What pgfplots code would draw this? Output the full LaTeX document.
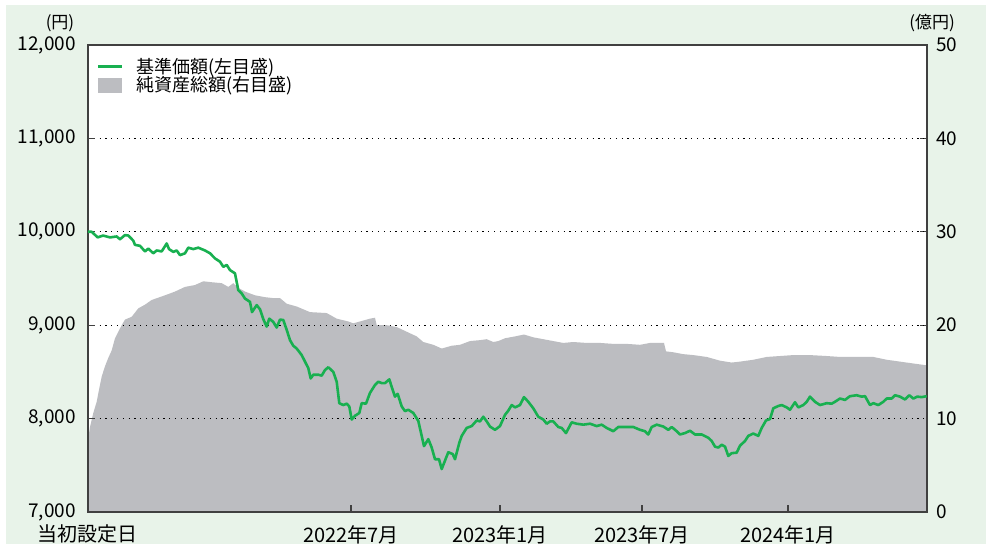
\documentclass[border=0pt]{standalone}
\usepackage{fontspec}
\setmainfont{Noto Sans CJK JP}
\usepackage{pgfplots}
\pgfplotsset{compat=1.18}
\definecolor{bgc}{RGB}{232,243,233}
\definecolor{areac}{RGB}{188,189,193}
\definecolor{linec}{RGB}{24,176,80}
\definecolor{axc}{RGB}{64,64,64}
\pgfplotsset{
  common/.style={
    scale only axis, width=839pt, height=467pt,
    xmin=88, xmax=927,
    axis line style={axc, line width=1.2pt},
    major tick style={axc, line width=1.2pt},
    major tick length=7pt,
    tick align=inside,
    scaled y ticks=false, scaled x ticks=false,
    /pgf/number format/assume math mode=true,
    every tick label/.append style={inner sep=0pt},
  }
}
\begin{document}
\begin{tikzpicture}
\fill[white] (-88pt,-34pt) rectangle (898pt,512pt);
\fill[bgc] (-82pt,-32pt) rectangle (898pt,507pt);
% right axis: total net assets (oku yen)
\begin{axis}[common,
  at={(0pt,0pt)}, anchor=south west,
  ymin=0, ymax=50,
  axis background/.style={fill=white},
  xtick=\empty,
  ytick={0,10,20,30,40,50},
  ytick pos=right, yticklabel pos=right,
  yticklabel style={font=\fontsize{19}{20}\selectfont, anchor=west},
  yticklabel shift=9pt,
]
\addplot[fill=areac, draw=none] coordinates {
(88,7.7) (90,9.1) (93.3,10.6) (96.7,11.8) (98.3,12.7) (101.7,14.5) (105,15.6) (108.3,16.5) (111.7,17.3) (115,18.6) (118.3,19.3) (121.7,20.0) (125,20.6) (131.7,20.9) (138.3,21.8) (145,22.2) (151.7,22.7) (165,23.2) (175,23.6) (185,24.1) (195,24.3) (203.3,24.7) (211.7,24.6) (221.7,24.5) (228.3,24.1) (233.3,24.5) (238.3,24.0) (245,23.6) (255,23.2) (265,23.0) (273.3,22.9) (280,22.9) (286.7,22.3) (296.7,22.0) (310,21.4) (326.7,21.3) (336.7,20.7) (348.3,20.4) (353.3,20.2) (360,20.4) (370,20.7) (375,20.8) (376.7,20.0) (386.7,20.0) (396.7,19.8) (406.7,19.3) (416.7,18.8) (423.3,18.2) (433.3,17.9) (441.7,17.5) (451.7,17.8) (460,17.9) (470,18.3) (480,18.4) (486.7,18.5) (493.3,18.2) (498.3,18.3) (505,18.6) (515,18.8) (524,19.0) (533.3,18.7) (543.3,18.5) (553.3,18.3) (563.3,18.1) (573.3,18.2) (586.7,18.1) (600,18.1) (613.3,18.0) (626.7,18.0) (640,17.9) (650,18.1) (664,18.1) (666,17.2) (673.3,17.1) (683.3,16.9) (693.3,16.8) (706.7,16.6) (720,16.2) (731.7,16.0) (740,16.1) (753.3,16.3) (766.7,16.6) (780,16.7) (793.3,16.8) (810,16.8) (826.7,16.7) (840,16.6) (856.7,16.6) (873.3,16.6) (886.7,16.3) (900,16.1) (913.3,15.9) (927,15.7)
} \closedcycle;
\end{axis}
% left axis: NAV (yen)
\begin{axis}[common,
  at={(0pt,0pt)}, anchor=south west,
  ymin=7000, ymax=12000,
  ytick={7000,8000,9000,10000,11000,12000},
  yticklabels={{7,000},{8,000},{9,000},{10,000},{11,000},{12,000}},
  ytick pos=left,
  yticklabel style={font=\fontsize{19}{20}\selectfont, anchor=east},
  yticklabel shift=12pt,
  xtick={88,351,500,642,788},
  xticklabels={当初設定日,2022年7月,2023年1月,2023年7月,2024年1月},
  xtick pos=bottom,
  xticklabel style={font=\fontsize{20}{22}\selectfont, anchor=north},
  xticklabel shift=13pt,
  ymajorgrids,
  grid style={black, line width=1pt, dash pattern=on 1.2pt off 4.6pt},
  legend style={at={(0.0107,0.975)}, anchor=north west, draw=none, fill=none,
    inner sep=0pt, row sep=0pt,
    font=\fontsize{18}{20}\selectfont,
    nodes={inner sep=1pt},
    /tikz/every odd column/.style={column sep=12pt}},
  legend cell align=left,
]
\addplot[linec, line width=2.6pt, line join=round,
  legend image code/.code={\draw[linec, line width=2.6pt] (0pt,0pt) -- (24pt,0pt);}] coordinates {
(88,10000) (91.7,10000) (97.7,9940) (103,9960) (110,9940) (116.7,9950) (120,9920) (125,9965) (128.3,9960) (133.3,9905) (135,9860) (140,9850) (145,9790) (148.3,9820) (153.3,9770) (156.7,9800) (161.7,9790) (166.7,9875) (169,9815) (173.3,9785) (176.7,9800) (180,9750) (185,9770) (188.3,9830) (193.3,9815) (198.3,9830) (205,9800) (210,9770) (215,9715) (220,9680) (223.3,9625) (226.7,9645) (230,9590) (235,9555) (238.3,9375) (241.7,9340) (245,9285) (250,9250) (252,9140) (256.7,9215) (260,9170) (263.3,9065) (266.7,8985) (269.3,9070) (273.3,9035) (276.7,8975) (280,9060) (283.3,9055) (286.7,8950) (290,8840) (293.3,8780) (296.7,8750) (301.7,8680) (305,8610) (308.3,8540) (310.7,8430) (313.3,8470) (318.3,8470) (321.7,8460) (325,8520) (328.3,8550) (333.3,8500) (336.7,8395) (339.3,8165) (343.3,8145) (346.7,8160) (349.3,8130) (351.7,7990) (355,8030) (359.3,8060) (361.7,8165) (366,8160) (370,8275) (375,8360) (378.3,8395) (381.7,8380) (385,8380) (389.3,8420) (391.7,8340) (395,8235) (397.7,8265) (401.7,8130) (405,8080) (408.3,8095) (413.3,8060) (418.3,7975) (421.7,7815) (424,7705) (428.3,7780) (431.7,7690) (435,7565) (439,7565) (441.7,7460) (445,7550) (448.3,7640) (452.7,7620) (455,7565) (459.3,7740) (461.7,7815) (466.7,7900) (471.7,7920) (476.7,7980) (480,7970) (483.3,8020) (486.7,7970) (490,7915) (495,7880) (500,7920) (505,8040) (508.3,8085) (511.7,8145) (515,8120) (520,8145) (524,8230) (528.3,8180) (533.3,8110) (538.3,8020) (543.3,7990) (546.7,7945) (550,7970) (553.3,7970) (558.3,7910) (561.7,7900) (566,7845) (571.7,7960) (576.7,7945) (583.3,7935) (590,7945) (596.7,7920) (601.7,7935) (606.7,7900) (613.3,7865) (618.3,7910) (626.7,7910) (633.3,7910) (640,7880) (645,7865) (648.3,7830) (651.7,7910) (656.7,7935) (663.3,7915) (668.3,7880) (671.7,7910) (676.7,7865) (680,7830) (685,7845) (690,7870) (695,7830) (701.7,7830) (708.3,7795) (711.7,7760) (715,7700) (718.3,7690) (721.7,7720) (725,7700) (728.3,7600) (731.7,7630) (736.7,7635) (740,7710) (745,7760) (748.3,7815) (753.3,7840) (758.3,7815) (761.7,7900) (766,7980) (770,7995) (773.3,8110) (778.3,8135) (781.7,8145) (786.7,8120) (790,8095) (795,8175) (798.3,8120) (803.3,8145) (806.7,8180) (810,8235) (815,8180) (820,8145) (826.7,8165) (831.7,8160) (835,8180) (840,8215) (845,8200) (850,8240) (856.7,8250) (861.7,8235) (865,8240) (870,8145) (873.3,8165) (878.3,8145) (883.3,8180) (886.7,8215) (891.7,8215) (895,8250) (900,8235) (905,8205) (909.3,8250) (913.3,8215) (917.3,8235) (921.7,8230) (926.7,8240)
};
\addlegendentry{基準価額(左目盛)}
\addlegendimage{legend image code/.code={\fill[areac] (0pt,-7pt) rectangle (23pt,7pt);}}
\addlegendentry{純資産総額(右目盛)}
\end{axis}
\node[font=\fontsize{17}{18}\selectfont] at (-28pt,489pt) {(円)};
\node[font=\fontsize{17}{18}\selectfont] at (844pt,489pt) {(億円)};
\pgfresetboundingbox
\useasboundingbox (-88pt,-34pt) rectangle (898pt,512pt);
\end{tikzpicture}
\end{document}
